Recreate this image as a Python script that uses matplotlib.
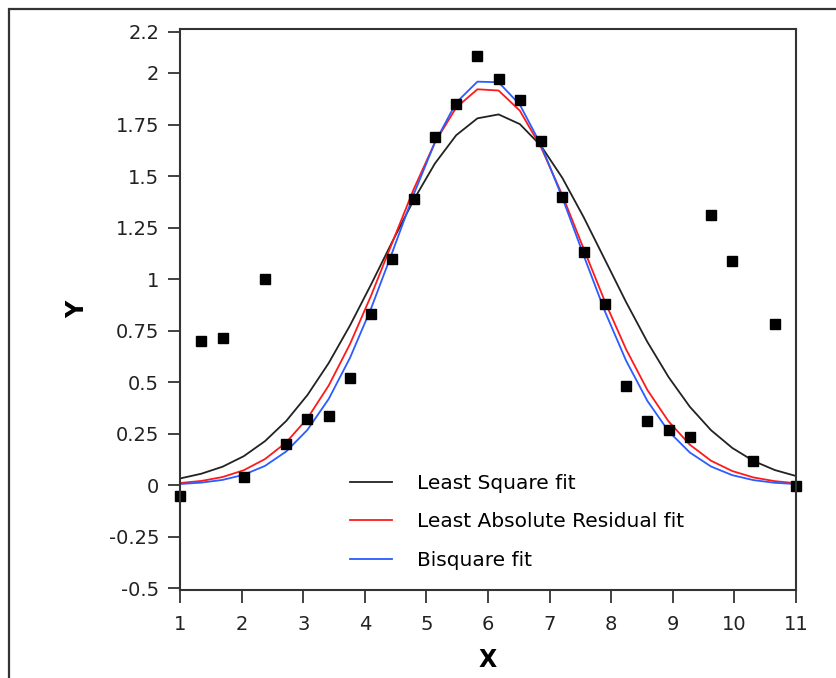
import matplotlib
matplotlib.use("Agg")
import matplotlib.pyplot as plt
from matplotlib.patches import Rectangle

# data points
x_pts = [1.000, 1.345, 1.690, 2.034, 2.379, 2.724, 3.069, 3.414, 3.759, 4.103,
         4.448, 4.793, 5.138, 5.483, 5.828, 6.172, 6.517, 6.862, 7.207, 7.552,
         7.897, 8.241, 8.586, 8.931, 9.276, 9.621, 9.966, 10.310, 10.655, 11.000]
y_pts = [-0.05, 0.70, 0.715, 0.04, 1.00, 0.20, 0.32, 0.335, 0.52, 0.83,
         1.10, 1.39, 1.69, 1.85, 2.08, 1.97, 1.87, 1.67, 1.40, 1.13,
         0.88, 0.48, 0.31, 0.27, 0.235, 1.31, 1.09, 0.12, 0.78, -0.005]

# fitted curves
y_ls = [0.033, 0.056, 0.090, 0.141, 0.214, 0.312, 0.438, 0.593, 0.775, 0.975,
        1.183, 1.384, 1.561, 1.698, 1.780, 1.799, 1.752, 1.646, 1.491, 1.301,
        1.095, 0.889, 0.696, 0.525, 0.381, 0.267, 0.181, 0.118, 0.074, 0.045]
y_lar = [0.011, 0.021, 0.040, 0.073, 0.127, 0.208, 0.325, 0.484, 0.685, 0.921,
         1.179, 1.436, 1.663, 1.832, 1.921, 1.915, 1.817, 1.639, 1.407, 1.148,
         0.892, 0.660, 0.463, 0.310, 0.197, 0.119, 0.069, 0.038, 0.020, 0.010]
y_bisq = [0.006, 0.013, 0.026, 0.051, 0.094, 0.164, 0.269, 0.419, 0.618, 0.859,
          1.132, 1.411, 1.663, 1.856, 1.958, 1.955, 1.846, 1.650, 1.395, 1.116,
          0.844, 0.605, 0.410, 0.262, 0.159, 0.091, 0.049, 0.025, 0.012, 0.006]

yticks = [-0.5, -0.25, 0, 0.25, 0.5, 0.75, 1, 1.25, 1.5, 1.75, 2, 2.2]
ytick_labels = ["-0.5", "-0.25", "0", "0.25", "0.5", "0.75", "1", "1.25",
                "1.5", "1.75", "2", "2.2"]
xticks = list(range(1, 12))

fig = plt.figure(figsize=(8.37, 6.78), dpi=100)
ax = fig.add_axes([0.2151, 0.1298, 0.7359, 0.8267])

# outer frame
fig.patches.append(Rectangle((9 / 837, -0.1), 1.2, (678 - 9) / 678 + 0.1,
                             transform=fig.transFigure, fill=False,
                             edgecolor="#333333", linewidth=1.6))

ax.plot(x_pts, y_ls, color="#222222", lw=1.3, label="Least Square fit")
ax.plot(x_pts, y_lar, color="#ff1a1a", lw=1.3, label="Least Absolute Residual fit")
ax.plot(x_pts, y_bisq, color="#2a5cff", lw=1.3, label="Bisquare fit")
ax.plot(x_pts, y_pts, "s", color="black", ms=7.5, clip_on=False)

ax.set_xlim(1, 11)
ax.set_ylim(-0.508, 2.211)
ax.set_xticks(xticks)
ax.set_yticks(yticks)
ax.set_yticklabels(ytick_labels)
ax.tick_params(direction="out", length=9, width=1.3, color="#333333",
               labelsize=14, labelcolor="#222222", pad=6)
ax.tick_params(axis="x", pad=9)

for s in ax.spines.values():
    s.set_color("#333333")
    s.set_linewidth(1.5)

ax.set_xlabel("X", fontsize=17, fontweight="bold", labelpad=10)
ax.set_ylabel("Y", fontsize=17, fontweight="bold", labelpad=14)

ax.legend(loc="lower left", bbox_to_anchor=(0.246, 0.004), frameon=False,
          fontsize=14.5, handlelength=2.1, handletextpad=1.25, labelspacing=0.95)

fig.savefig("out.png", dpi=100)
